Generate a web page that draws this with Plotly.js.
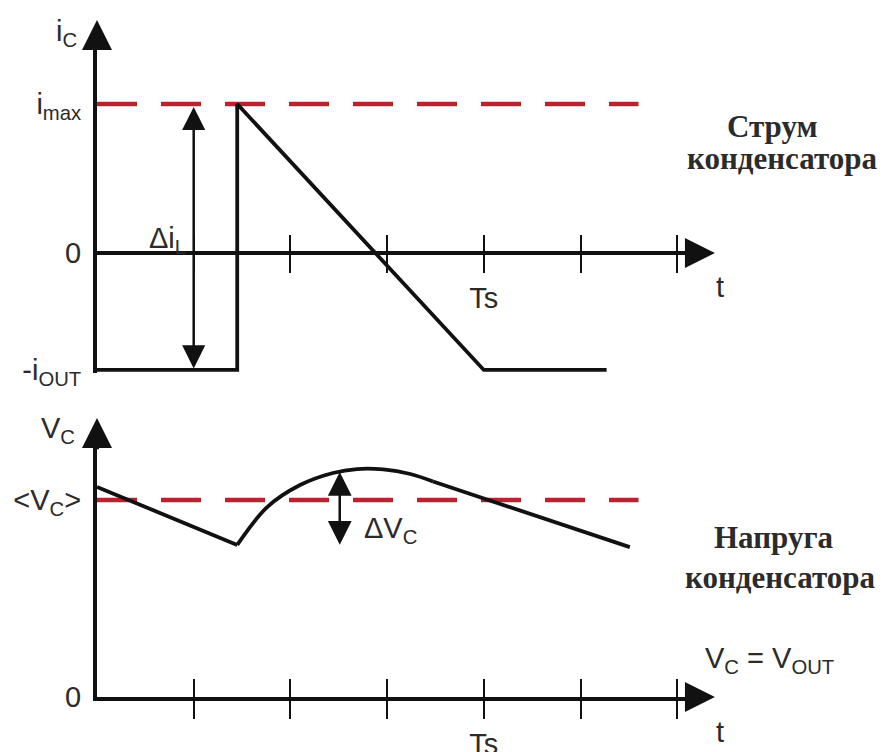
<!DOCTYPE html>
<html>
<head>
<meta charset="utf-8">
<script src="https://cdn.plot.ly/plotly-3.0.1.min.js"></script>
<style>
  html, body { margin: 0; padding: 0; background: #fff; }
  #chart { width: 885px; height: 752px; }
</style>
</head>
<body>
<div id="chart"></div>
<script>
// Time axis: one unit per tick, the switching period Ts is the 4th tick
const tickVals = [1, 2, 3, 4, 5, 6];
const periodTick = [4];
const periodText = ['Ts'];

// Capacitor current (in units of i_max)
const iMax = 1;
const iOut = -0.785;
const icTime  = [0, 1.45, 1.45, 4.0, 5.27];
const icValue = [-0.785, -0.785, 1, -0.785, -0.785];
const iLevelTime = [0, 5.6];

// Capacitor voltage (in units of <V_C>)
const vcAvg = 1;
const vcDropTime  = [0, 1.45];
const vcDropValue = [1.066, 0.772];
const vcRiseTime  = [1.45, 1.76, 2.10, 2.44, 2.69, 2.96, 3.24, 3.475];
const vcRiseValue = [0.772, 0.964, 1.076, 1.137, 1.157, 1.155, 1.132, 1.094];
const vcTailTime  = [3.475, 5.51];
const vcTailValue = [1.094, 0.761];
const vLevelTime = [0, 5.6];
const dVcTime = 2.51;
const dVcSpan = [0.765, 1.142];
const diTime = 1.0;
const diSpan = [-0.785, 0.98];

// Page geometry (pixels)
const W = 885, H = 752;
const originX = 97, tickStep = 96.7, axisEndX = 700;
const topZeroY = 253, topUnit = 149, topBottomY = 373, topTopY = 35;
const botZeroY = 697, botUnit = 197, botTopY = 440;

const px = v => v / W;
const py = v => 1 - v / H;

const BLACK = '#111';
const RED = '#b8232f';
const TXT = '#2b2b2b';
const SANS = 'Liberation Sans, Arial, sans-serif';
const SERIF = 'Liberation Serif, Times New Roman, serif';
const FS = 29;

const xRange = [0, (axisEndX - originX) / tickStep];
const xDomain = [px(originX), px(axisEndX)];

const traces = [
  { x: iLevelTime, y: [iMax, iMax], xaxis: 'x', yaxis: 'y', mode: 'lines',
    line: { color: RED, width: 4.5, dash: '40px,24px' }, cliponaxis: false, hoverinfo: 'skip' },
  { x: icTime, y: icValue, xaxis: 'x', yaxis: 'y', mode: 'lines',
    line: { color: BLACK, width: 3.8 }, cliponaxis: false, hoverinfo: 'skip' },
  { x: vLevelTime, y: [vcAvg, vcAvg], xaxis: 'x2', yaxis: 'y2', mode: 'lines',
    line: { color: RED, width: 4.5, dash: '40px,24px' }, cliponaxis: false, hoverinfo: 'skip' },
  { x: vcDropTime, y: vcDropValue, xaxis: 'x2', yaxis: 'y2', mode: 'lines',
    line: { color: BLACK, width: 3.8 }, cliponaxis: false, hoverinfo: 'skip' },
  { x: vcRiseTime, y: vcRiseValue, xaxis: 'x2', yaxis: 'y2', mode: 'lines',
    line: { color: BLACK, width: 3.8, shape: 'spline', smoothing: 1 }, cliponaxis: false, hoverinfo: 'skip' },
  { x: vcTailTime, y: vcTailValue, xaxis: 'x2', yaxis: 'y2', mode: 'lines',
    line: { color: BLACK, width: 3.8 }, cliponaxis: false, hoverinfo: 'skip' },
  // empty traces that register the upper tick rows
  { x: [], y: [], xaxis: 'x3', yaxis: 'y', mode: 'lines', hoverinfo: 'skip' },
  { x: [], y: [], xaxis: 'x4', yaxis: 'y2', mode: 'lines', hoverinfo: 'skip' }
];

const timeAxis = {
  domain: xDomain, range: xRange, showgrid: false, zeroline: false,
  showline: true, linewidth: 4, linecolor: BLACK,
  ticks: 'outside', ticklen: 18, tickwidth: 2, tickcolor: BLACK,
  tickvals: periodTick, ticktext: periodText, ticklabelstandoff: 0,
  minor: { tickmode: 'array', tickvals: tickVals, ticks: 'outside', ticklen: 18, tickwidth: 2, tickcolor: BLACK },
  tickfont: { family: SANS, size: FS, color: TXT }, fixedrange: true
};
const upperTicks = {
  domain: xDomain, range: xRange, showgrid: false, zeroline: false, showline: false,
  side: 'top', ticks: 'outside', ticklen: 18, tickwidth: 2, tickcolor: BLACK,
  tickvals: tickVals, showticklabels: false, fixedrange: true
};
const valueAxis = {
  showgrid: false, zeroline: false, showline: true, linewidth: 4, linecolor: BLACK,
  ticks: '', ticklabelstandoff: 6, tickfont: { family: SANS, size: FS, color: TXT }, fixedrange: true
};

function axisArrow(xr, yr, tipX, tipY, tailX, tailY) {
  return { xref: xr, yref: yr, axref: xr, ayref: yr, x: tipX, y: tipY, ax: tailX, ay: tailY,
    text: '', showarrow: true, arrowhead: 2, arrowsize: 1.5, arrowwidth: 4,
    arrowcolor: BLACK, standoff: 0 };
}
function spanArrow(xr, yr, t, lo, hi, size) {
  return { xref: xr, yref: yr, axref: xr, ayref: yr, x: t, y: hi, ax: t, ay: lo,
    text: '', showarrow: true, arrowside: 'end+start', arrowhead: 2, startarrowhead: 2,
    arrowsize: size, startarrowsize: size, arrowwidth: 2.5, arrowcolor: BLACK,
    standoff: 0, startstandoff: 0 };
}
function label(text, x, y, xanchor, size, family) {
  return { xref: 'paper', yref: 'paper', x: px(x), y: py(y), xanchor: xanchor || 'center',
    yanchor: 'middle', text: text, showarrow: false,
    font: { family: family || SANS, size: size || FS, color: TXT } };
}

const layout = {
  width: W, height: H, margin: { l: 0, r: 0, t: 0, b: 0 },
  paper_bgcolor: '#fff', plot_bgcolor: 'rgba(0,0,0,0)', showlegend: false,
  xaxis: Object.assign({}, timeAxis, { anchor: 'free', position: py(topZeroY) }),
  xaxis3: Object.assign({}, upperTicks, { overlaying: 'x', anchor: 'free', position: py(topZeroY) }),
  yaxis: Object.assign({}, valueAxis, {
    anchor: 'x', domain: [py(topBottomY), py(topTopY)],
    range: [(topZeroY - topBottomY) / topUnit, (topZeroY - topTopY) / topUnit],
    tickvals: [iOut, 0, iMax], ticktext: ['-i<sub>OUT</sub>', '0', 'i<sub>max</sub>']
  }),
  xaxis2: Object.assign({}, timeAxis, { anchor: 'y2' }),
  xaxis4: Object.assign({}, upperTicks, { overlaying: 'x2', anchor: 'free', position: py(botZeroY) }),
  yaxis2: Object.assign({}, valueAxis, {
    anchor: 'x2', domain: [py(botZeroY), py(botTopY)],
    range: [0, (botZeroY - botTopY) / botUnit],
    tickvals: [0, vcAvg], ticktext: ['0', '&lt;V<sub>C</sub>&gt;']
  }),
  annotations: [
    axisArrow('x', 'y', 0, 1.564, 0, 1.40),
    axisArrow('x', 'y', 6.39, 0, 6.1, 0),
    axisArrow('x2', 'y2', 0, 1.416, 0, 1.25),
    axisArrow('x2', 'y2', 6.39, 0, 6.1, 0),
    spanArrow('x', 'y', diTime, diSpan[0], diSpan[1], 1.85),
    spanArrow('x2', 'y2', dVcTime, dVcSpan[0], dVcSpan[1], 1.9),
    label('i<sub>C</sub>', 66, 33),
    label('V<sub>C</sub>', 58, 430),
    label('Δi<sub>L</sub>', 167, 240),
    label('ΔV<sub>C</sub>', 362, 530, 'left'),
    label('t', 720, 287),
    label('t', 720, 732),
    label('V<sub>C</sub> = V<sub>OUT</sub>', 703, 660, 'left'),
    label('<b>Струм</b>', 772, 126, 'center', 31, SERIF),
    label('<b>конденсатора</b>', 782, 158, 'center', 31, SERIF),
    label('<b>Напруга</b>', 773, 537, 'center', 31, SERIF),
    label('<b>конденсатора</b>', 780, 577, 'center', 31, SERIF)
  ]
};

Plotly.newPlot('chart', traces, layout, { staticPlot: true, displayModeBar: false });
</script>
</body>
</html>
